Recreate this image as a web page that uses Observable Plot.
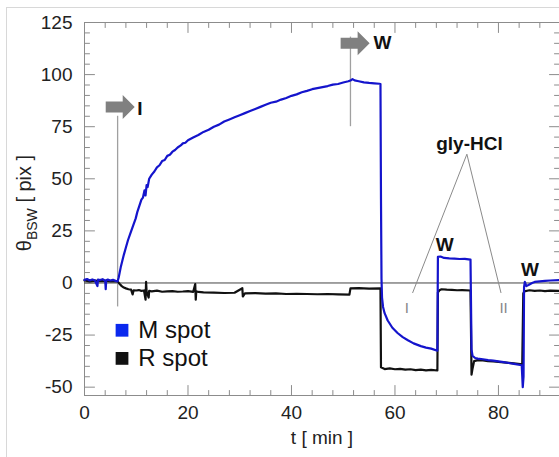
<!DOCTYPE html>
<html><head><meta charset="utf-8">
<script src="https://cdn.jsdelivr.net/npm/d3@7"></script>
<script src="https://cdn.jsdelivr.net/npm/@observablehq/plot@0.6"></script>
<style>
body{margin:0;background:#fff;}
#wrap{position:relative;width:559px;height:457px;overflow:hidden;background:#fff;}
#border{position:absolute;left:6px;top:7px;width:700px;height:700px;border-left:1.5px solid #d8d8d8;border-top:1.5px solid #d8d8d8;pointer-events:none;}
svg{position:absolute;left:0;top:0;}
</style></head><body><div id="wrap"><div id="border"></div></div>
<script>
// ---- data ----
const mT = [0,0.5,1,1.5,2,2.5,2.6,3,3.5,4,4.1,4.2,4.5,5,5.5,6,6.4,
  6.6,6.8,7,7.3,7.6,8,8.4,8.9,9.4,9.9,10.2,10.6,11,11.3,11.6,11.8,12,12.2,12.5,13,13.5,14,14.5,15,15.5,16,16.5,17,17.5,18,18.6,19,19.5,20,
  21,22,23,24,25,26,27,28,29,30,31,32,33,34,35,36,37,38,39,40,41,42,43,44,45,46,47,48,49,50,51,51.5,51.8,52.2,53,54,55,56,57,57.2,
  57.3,57.4,57.5,57.7,58,58.6,59.5,60.5,61.5,62.5,63.6,65,66,67,68.2,
  68.3,68.8,69.5,70.5,71.5,72.5,73.5,74.6,
  74.8,75,75.5,76,77,78,79,80,81,82,83,84.5,84.7,84.85,84.95,85.1,85.4,85.8,86.5,87,88,89,90,91.8];
const mV = [1.5,1.9,1.2,1.7,1.3,-1.5,1.6,1.4,1.8,1.1,-3,1.3,1.6,1.2,1.5,1.0,0.8,
  2.5,5,7.5,10.5,13.5,17,20.5,24,27.5,31,34,37,40,41,44.5,42,47,46,50,52,53.5,55.5,56.5,58.5,59,61,61.5,63,63.8,65,66,67,67.3,68.5,
  69.8,71,72.5,73.5,75,76,77.5,78.5,79.5,80.5,81.5,82.5,83.5,84.5,85.5,86.5,87,88,88.8,89.8,90.5,91.5,92.2,93,93.5,94,94.5,95.2,95.5,96.2,96.8,97.3,97.8,97.2,96.8,96.3,96,95.8,95.6,95.5,
  40,2,-7,-11.5,-14.5,-18,-21.5,-24,-26,-27.5,-29,-30.3,-31,-31.5,-32.5,
  12.5,12.7,12,11.8,11.7,11.5,11.6,11.2,
  -32,-35,-36,-36.3,-36.6,-37,-37.3,-37.6,-38,-38.4,-38.8,-39.5,-50,-45,-2,0.5,-1.5,-1,0,0.5,0.8,1,1.2,1.4];
const rT = [0,1,2,3,4,5,6,6.4,6.8,7.2,7.6,8,8.5,9,9.3,9.5,10,10.5,11,11.5,11.8,11.9,12,12.4,12.5,13,14,15,16,17,18,19,20,21,21.4,21.5,21.6,22,23,25,27,29,30.5,30.6,31,33,35,37,39,41,43,45,47,49,51.2,51.4,53,55,57.2,
  57.3,58,59,60,61,62,63,64,65,66,67,68.2,
  68.3,68.6,69,70,71,72,73,74.6,
  74.8,75,75.3,76,77,78,79,80,81,82,83,84.6,
  84.8,85,86,87,88,89,90,91.8];
const rV = [1.2,0.8,1.1,0.9,1.0,0.8,0.9,0.7,-0.5,-1.5,-2.2,-2.6,-3,-3.2,-5.5,-3.5,-3.6,-3.4,-3.8,-3.6,-8,0.5,-4,-7,-3.8,-4,-3.7,-4.2,-4,-3.9,-4.2,-4.1,-3.9,-4.3,-0.5,-8,-4,-4.3,-4.5,-4.6,-4.8,-4.7,-2.5,-6.5,-5,-4.9,-5.1,-5,-5.3,-5.2,-5.3,-5.4,-5.3,-5.5,-5.6,-2.6,-2.5,-2.7,-2.6,
  -40.5,-41.3,-41,-41.4,-41.2,-41.6,-41.4,-41.8,-41.6,-41.9,-41.7,-42,
  -4.5,-3.5,-3,-3.2,-3.3,-3.5,-3.4,-3.6,
  -44,-41,-37.5,-37,-37.2,-37.5,-37.6,-37.9,-38.1,-38.3,-38.6,-39,
  -5,-4,-3.5,-3.8,-3.6,-3.9,-3.7,-3.8];

const xDomain = [0, 91.8];
const yDomain = [-54, 125];
const xMajor = [0, 20, 40, 60, 80];
const xMinor = [4, 8, 12, 16, 24, 28, 32, 36, 44, 48, 52, 56, 64, 68, 72, 76, 84, 88];
const yMajor = [-50, -25, 0, 25, 50, 75, 100, 125];
const yMinor = [-45, -40, -35, -30, -20, -15, -10, -5, 5, 10, 15, 20, 30, 35, 40, 45, 55, 60, 65, 70, 80, 85, 90, 95, 105, 110, 115, 120];

const seriesNames = ["M spot", "R spot"];
const seriesColors = ["#1414cc", "#111111"];
const legendColors = ["#0a28ee", "#111111"];

// annotations
const guideT = [6.4, 51.4];
const guideY1 = [-11.5, 75];
const guideY2 = [80, 118];
const arrowT = [4.1, 49.5];
const arrowV = [84.5, 115];
const boldText = ["I", "W", "gly-HCl", "W", "W"];
const boldT = [10.7, 57.6, 74.4, 69.6, 86.1];
const boldV = [83.6, 115, 66.7, 18.4, 6.3];
const leaderApex = [73.9, 61.8];
const leaderEndsT = [63.4, 80.5];
const leaderEndsV = [-4.8, -4.8];
const subText = ["I", "II"];
const subT = [62.3, 81.0];
const subV = [-12, -12];
const legendT = [7.25, 10.4];
const legendV = [-22.7, -36.2];

// ---- build tables ----
const M = mT.map((t, i) => ({t, v: mV[i]}));
const R = rT.map((t, i) => ({t, v: rV[i]}));
const guides = guideT.map((t, i) => ({t, y1: guideY1[i], y2: guideY2[i]}));
const arrows = arrowT.map((t, i) => ({t, v: arrowV[i]}));
const bolds = boldText.map((s, i) => ({s, t: boldT[i], v: boldV[i]}));
const leaders = leaderEndsT.map((t, i) => ({x1: leaderApex[0], y1: leaderApex[1], x2: t, y2: leaderEndsV[i]}));
const subs = subText.map((s, i) => ({s, t: subT[i], v: subV[i]}));
const legend = seriesNames.map((n, i) => ({n, t: legendT[0], tt: legendT[1], v: legendV[i], c: legendColors[i]}));

const tickShape = {draw(ctx, l) { ctx.moveTo(0, 0); ctx.lineTo(0, -l); }};
const blockArrow = {draw(ctx, l) {
  const sh = 5.5, hh = 12, hl = 12;
  ctx.moveTo(-sh, 0); ctx.lineTo(sh, 0); ctx.lineTo(sh, -l + hl); ctx.lineTo(hh, -l + hl);
  ctx.lineTo(0, -l); ctx.lineTo(-hh, -l + hl); ctx.lineTo(-sh, -l + hl); ctx.closePath();
}};
const axisGray = "#8c8c8c";
const ticks = (data, ch, frameAnchor, rotate, length) =>
  Plot.vector(data, {[ch]: d => d, frameAnchor, rotate, length, anchor: "start", shape: tickShape, stroke: axisGray, strokeWidth: 1});

const plot = Plot.plot({
  width: 559, height: 457,
  marginLeft: 84, marginRight: 0, marginTop: 22, marginBottom: 62,
  style: {fontFamily: "'Liberation Sans', Arial, sans-serif", color: "#222", background: "transparent"},
  x: {domain: xDomain},
  y: {domain: yDomain},
  color: {type: "identity"},
  marks: [
    Plot.ruleX([xDomain[0]], {stroke: axisGray}),
    Plot.ruleY(yDomain, {stroke: axisGray}),
    ticks(xMajor, "x", "bottom", 0, 10),
    ticks(xMinor, "x", "bottom", 0, 5),
    ticks(xMajor, "x", "top", 180, 10),
    ticks(xMinor, "x", "top", 180, 5),
    ticks(yMajor, "y", "left", 90, 10),
    ticks(yMinor, "y", "left", 90, 5),
    ticks(yMajor, "y", "right", -90, 10),
    ticks(yMinor, "y", "right", -90, 5),
    Plot.axisX(xMajor, {anchor: "bottom", tickSize: 0, tickPadding: 10, fontSize: 19, label: null, tickFormat: d => String(d)}),
    Plot.axisY(yMajor, {anchor: "left", tickSize: 0, tickPadding: 12, fontSize: 19, label: null, tickFormat: d => String(d)}),
    Plot.text(["t [ min ]"], {frameAnchor: "bottom", dy: 48, fontSize: 19, fill: "#222"}),
    Plot.ruleY([0], {stroke: "#444", strokeWidth: 1}),
    Plot.ruleX(guides, {x: "t", y1: "y1", y2: "y2", stroke: "#a0a0a0", strokeWidth: 1.3}),
    Plot.link(leaders, {x1: "x1", y1: "y1", x2: "x2", y2: "y2", stroke: "#8a8a8a", strokeWidth: 1}),
    Plot.line(R, {x: "t", y: "v", stroke: seriesColors[1], strokeWidth: 2.2}),
    Plot.line(M, {x: "t", y: "v", stroke: seriesColors[0], strokeWidth: 2.2}),
    Plot.vector(arrows, {x: "t", y: "v", length: 29, rotate: 90, anchor: "start", shape: blockArrow, fill: "#808080", stroke: "none"}),
    Plot.text(bolds, {x: "t", y: "v", text: "s", fontSize: 19, fontWeight: "bold", fill: "#111"}),
    Plot.text(subs, {x: "t", y: "v", text: "s", fontSize: 15, fill: "#888"}),
    Plot.dot(legend, {x: "t", y: "v", symbol: "square", r: 7.2, fill: "c", stroke: "none"}),
    Plot.text(legend, {x: "tt", y: "v", text: "n", textAnchor: "start", fontSize: 24, fill: "#111"})
  ]
});

const svg = d3.select(plot);
const lab = svg.append("text")
  .attr("transform", "translate(31,203) rotate(-90)")
  .attr("text-anchor", "middle")
  .attr("font-size", 20)
  .attr("fill", "#222")
  .attr("font-family", "'Liberation Sans', Arial, sans-serif");
lab.append("tspan").text("θ");
lab.append("tspan").attr("font-size", 14).attr("dy", 6).text("BSW");
lab.append("tspan").attr("dy", -6).text(" [ pix ]");

document.getElementById("wrap").appendChild(plot);
</script></body></html>
